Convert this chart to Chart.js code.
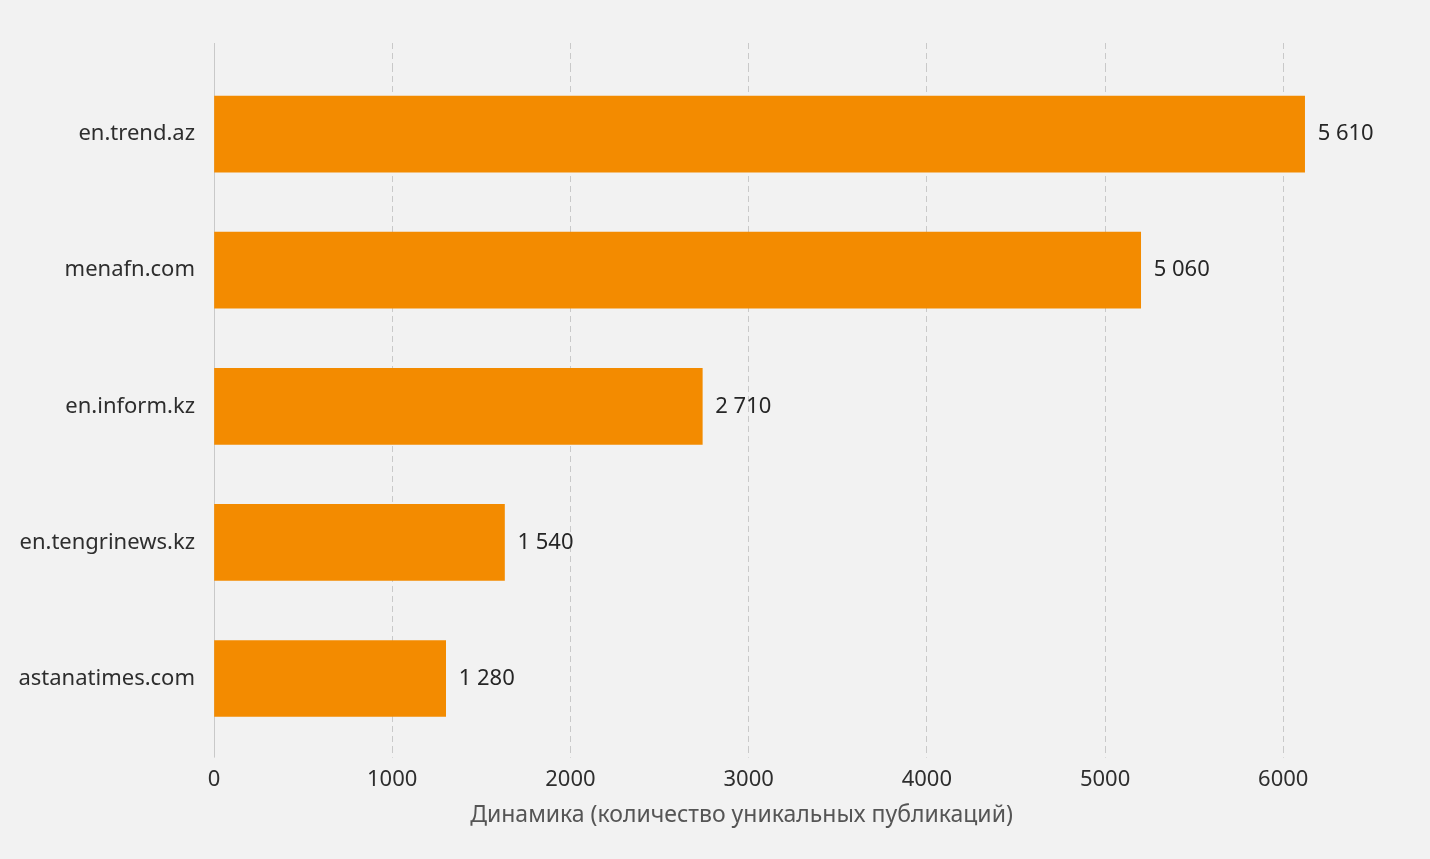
<!DOCTYPE html>
<html>
<head>
<meta charset="utf-8">
<script src="https://cdn.jsdelivr.net/npm/chart.js@4.4.1/dist/chart.umd.min.js"></script>
<style>
  html, body { margin: 0; padding: 0; background: #f2f2f2; }
  .wrap { width: 1430px; height: 859px; }
</style>
</head>
<body>
<div class="wrap"><canvas id="sourcesChart" width="1430" height="859"></canvas></div>
<script>
const sites = ['en.trend.az', 'menafn.com', 'en.inform.kz', 'en.tengrinews.kz', 'astanatimes.com'];
const barValues = [6120, 5200, 2740, 1630, 1300];
const valueLabels = ['5 610', '5 060', '2 710', '1 540', '1 280'];
const xTicks = [0, 1000, 2000, 3000, 4000, 5000, 6000];
const axisTitle = 'Динамика (количество уникальных публикаций)';
const xMax = 6700;

const FONT = '"Noto Sans", "Open Sans", sans-serif';

// value text to the right of each bar
const barLabels = {
  id: 'barLabels',
  afterDatasetsDraw(chart) {
    const ctx = chart.ctx;
    const meta = chart.getDatasetMeta(0);
    ctx.save();
    ctx.font = '22px ' + FONT;
    ctx.fillStyle = '#262626';
    ctx.textAlign = 'left';
    ctx.textBaseline = 'middle';
    meta.data.forEach((bar, i) => {
      ctx.fillText(valueLabels[i], bar.x + 13, bar.y);
    });
    ctx.restore();
  }
};

// axis title, centred the way the original sits under the ticks
const xTitle = {
  id: 'xTitle',
  afterDraw(chart) {
    const ctx = chart.ctx;
    const x = chart.scales.x;
    ctx.save();
    ctx.font = '23px ' + FONT;
    ctx.fillStyle = '#555555';
    ctx.textAlign = 'center';
    ctx.textBaseline = 'middle';
    ctx.fillText(axisTitle, x.getPixelForValue(2960), x.bottom + 13);
    ctx.restore();
  }
};

const gridColor = '#c9c9c9';
const tickDash = c => (c.tick && c.tick.value === 0 ? [] : [6, 4]);
const fixedTicks = scale => { scale.ticks = xTicks.map(v => ({ value: v })); };

window.addEventListener('DOMContentLoaded', () => {
  const ctx = document.getElementById('sourcesChart').getContext('2d');

  new Chart(ctx, {
    type: 'bar',
    data: {
      labels: sites,
      datasets: [{
        data: barValues,
        backgroundColor: '#f38b00',
        borderWidth: 0,
        barThickness: 76
      }]
    },
    options: {
      indexAxis: 'y',
      responsive: false,
      animation: false,
      devicePixelRatio: 1,
      layout: { padding: { top: 43, right: 22, bottom: 57, left: 0 } },
      plugins: {
        legend: { display: false },
        tooltip: { enabled: false }
      },
      scales: {
        x: {
          position: 'bottom',
          min: 0,
          max: xMax,
          afterBuildTicks: fixedTicks,
          ticks: {
            padding: 9,
            color: '#2e2e2e',
            font: { family: FONT, size: 22 },
            maxRotation: 0,
            callback: v => String(v)
          },
          grid: {
            color: gridColor,
            lineWidth: 1,
            tickLength: 11,
            tickColor: gridColor,
            tickBorderDash: tickDash
          },
          border: { display: false, dash: [6, 4] }
        },
        x2: {
          type: 'linear',
          position: 'top',
          min: 0,
          max: xMax,
          afterBuildTicks: fixedTicks,
          ticks: { display: false },
          grid: {
            drawOnChartArea: false,
            tickLength: 23,
            tickColor: gridColor,
            tickBorderDash: tickDash
          },
          border: { display: false }
        },
        y: {
          afterFit: scale => { scale.width = 214; },
          ticks: {
            padding: 19,
            color: '#2e2e2e',
            font: { family: FONT, size: 22 }
          },
          grid: { display: false, drawTicks: false },
          border: { display: true, color: gridColor, width: 1 }
        }
      }
    },
    plugins: [barLabels, xTitle]
  });
});
</script>
</body>
</html>
